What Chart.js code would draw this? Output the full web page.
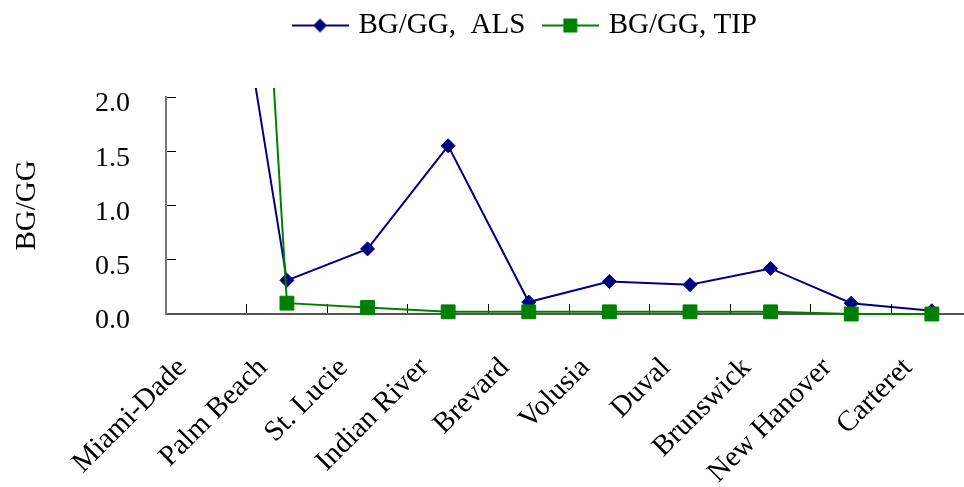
<!DOCTYPE html>
<html>
<head>
<meta charset="utf-8">
<script src="https://cdn.jsdelivr.net/npm/chart.js@4.4.1/dist/chart.umd.min.js"></script>
<style>
  html, body { margin: 0; padding: 0; background: #fff; overflow: hidden; }
  #wrap { position: relative; width: 1004px; height: 487px; }
</style>
</head>
<body>
<div id="wrap"><canvas id="myChart"></canvas></div>
<script>
const counties = ['Miami-Dade', 'Palm Beach', 'St. Lucie', 'Indian River', 'Brevard',
                  'Volusia', 'Duval', 'Brunswick', 'New Hanover', 'Carteret'];
const alsValues = [4.9, 0.31, 0.60, 1.55, 0.11, 0.30, 0.27, 0.42, 0.10, 0.03];
const tipValues = [12.4, 0.10, 0.06, 0.02, 0.02, 0.02, 0.02, 0.02, 0.00, 0.00];
const yTicks = [0, 0.5, 1.0, 1.5, 2.0];

const NAVY = '#000080';
const GREEN = '#008000';
const FONT = "'Liberation Serif', 'Times New Roman', serif";

// little line+marker picture for the legend
function legendSwatch(color, shape) {
    const c = document.createElement('canvas');
    c.width = 57; c.height = 20;
    const g = c.getContext('2d');
    g.strokeStyle = color; g.lineWidth = 2;
    g.beginPath(); g.moveTo(0, 10); g.lineTo(57, 10); g.stroke();
    g.fillStyle = color;
    g.beginPath();
    if (shape === 'diamond') {
        g.moveTo(28.5, 3); g.lineTo(35.5, 10); g.lineTo(28.5, 17); g.lineTo(21.5, 10);
    } else {
        g.rect(21.5, 3, 14, 14);
    }
    g.closePath(); g.fill();
    return c;
}

// move the legend box a bit (it sits off-centre in the original)
const shiftLegend = {
    id: 'shiftLegend',
    afterLayout(chart) {
        const lg = chart.legend;
        lg.left += 27; lg.right += 27;
        lg.top -= 47; lg.bottom -= 47;
    }
};

window.onload = () => {
    const ctx = document.getElementById('myChart').getContext('2d');
    new Chart(ctx, {
        type: 'line',
        data: {
            labels: counties,
            datasets: [{
                label: 'BG/GG,  ALS',
                data: alsValues,
                borderColor: NAVY,
                backgroundColor: NAVY,
                borderWidth: 2,
                pointStyle: 'rectRot',
                pointRadius: 7,
                pointBorderWidth: 1,
                tension: 0,
                order: 1,
                clip: {left: 5, top: 9, right: 5, bottom: 10}
            }, {
                label: 'BG/GG, TIP',
                data: tipValues,
                borderColor: GREEN,
                backgroundColor: GREEN,
                borderWidth: 2,
                pointStyle: 'rect',
                pointRadius: 9.8,
                pointBorderWidth: 1,
                tension: 0,
                order: 0,
                clip: {left: 5, top: 9, right: 5, bottom: 10}
            }]
        },
        options: {
            responsive: true,
            maintainAspectRatio: false,
            animation: false,
            layout: { padding: { top: 37, right: 5, bottom: 0, left: 0 } },
            plugins: {
                tooltip: { enabled: false },
                legend: {
                    position: 'top',
                    labels: {
                        color: '#000',
                        font: { family: FONT, size: 29 },
                        usePointStyle: true,
                        pointStyleWidth: 48,
                        padding: 21,
                        generateLabels: (chart) => chart.data.datasets.map((ds, i) => ({
                            text: ds.label,
                            datasetIndex: i,
                            fontColor: '#000',
                            lineWidth: 0,
                            pointStyle: legendSwatch(ds.borderColor, i === 0 ? 'diamond' : 'square')
                        }))
                    }
                }
            },
            scales: {
                x: {
                    offset: true,
                    afterFit: (scale) => { scale.height = 173; },
                    grid: {
                        offset: true,
                        drawOnChartArea: false,
                        tickLength: -10,
                        tickColor: '#000',
                        tickWidth: 1
                    },
                    border: { color: '#555', width: 2 },
                    ticks: {
                        color: '#000',
                        font: { family: FONT, size: 29 },
                        minRotation: 45,
                        maxRotation: 45,
                        autoSkip: false,
                        padding: 47,
                        labelOffset: -24
                    }
                },
                y: {
                    min: 0,
                    max: 2,
                    afterFit: (scale) => { scale.width = 166; },
                    afterBuildTicks: (scale) => { scale.ticks = yTicks.map(v => ({ value: v })); },
                    grid: {
                        drawOnChartArea: false,
                        tickLength: -10,
                        tickColor: '#000',
                        tickWidth: 1
                    },
                    border: { color: '#777', width: 2 },
                    ticks: {
                        color: '#000',
                        font: { family: FONT, size: 28 },
                        padding: 46,
                        labelOffset: 7,
                        callback: (v) => Number(v).toFixed(1)
                    },
                    title: {
                        display: true,
                        text: 'BG/GG',
                        color: '#000',
                        font: { family: FONT, size: 29 },
                        padding: { top: 10, bottom: 0 }
                    }
                }
            }
        },
        plugins: [shiftLegend]
    });
};
</script>
</body>
</html>
